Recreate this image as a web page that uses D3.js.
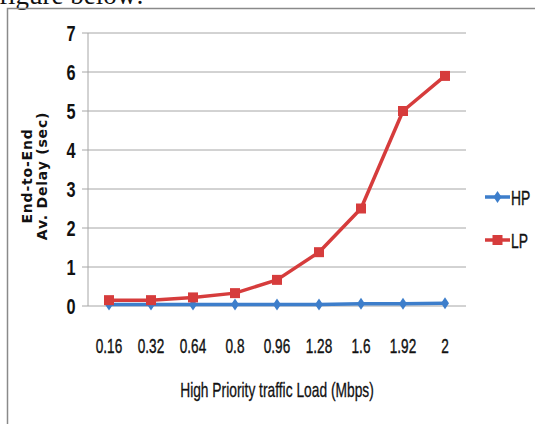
<!DOCTYPE html>
<html>
<head>
<meta charset="utf-8">
<script src="https://cdn.jsdelivr.net/npm/d3@7"></script>
<style>
  body { margin: 0; background: #fff; }
  svg { display: block; }
</style>
</head>
<body>
<div id="chart"></div>
<script>
// data
let categories = ['0.16', '0.32', '0.64', '0.8', '0.96', '1.28', '1.6', '1.92', '2'];
let hpValues = [0.04, 0.04, 0.04, 0.04, 0.04, 0.04, 0.06, 0.06, 0.07];
let lpValues = [0.15, 0.15, 0.22, 0.33, 0.67, 1.38, 2.5, 5.0, 5.9];
let yTicks = [0, 1, 2, 3, 4, 5, 6, 7];

let width = 535, height = 424;
let plot = {left: 88, right: 466, top: 33, bottom: 306};
let narrowFont = '"Liberation Sans", Arial, sans-serif';
let squeeze = 'scale(0.68,1)';

let $svg = d3.select('#chart').append('svg')
    .attr('width', width)
    .attr('height', height);

// cut-off caption line above the figure
$svg.append('text')
    .attr('x', -1).attr('y', 4)
    .attr('font-family', '"Liberation Serif", serif')
    .attr('font-size', 27)
    .attr('fill', '#111')
    .text('figure below:');

// outer frame
$svg.append('rect')
    .attr('x', 7.5).attr('y', 8.5)
    .attr('width', 540).attr('height', 430)
    .attr('fill', 'none')
    .attr('stroke', '#8a8a8a')
    .attr('stroke-width', 1.5);

let x = d3.scaleBand().domain(categories).range([plot.left, plot.right]);
let y = d3.scaleLinear().domain([0, 7]).range([plot.bottom, plot.top]);

// grid lines
$svg.append('g').selectAll('line')
    .data(yTicks)
    .join('line')
    .attr('x1', plot.left - 6).attr('x2', plot.right)
    .attr('y1', d => y(d)).attr('y2', d => y(d))
    .attr('stroke', '#a6a6a6')
    .attr('stroke-width', 1);

// y axis line
$svg.append('line')
    .attr('x1', plot.left).attr('x2', plot.left)
    .attr('y1', plot.top).attr('y2', plot.bottom)
    .attr('stroke', '#a6a6a6');

// y tick labels
let yAxis = $svg.append('g')
    .attr('transform', `translate(${plot.left - 17},0)`)
    .call(d3.axisLeft(y).tickValues(yTicks).tickSize(0).tickPadding(0).tickFormat(d3.format('d')));
yAxis.select('.domain').remove();
yAxis.selectAll('text')
    .attr('font-family', narrowFont)
    .attr('font-size', 22)
    .attr('font-weight', 'bold')
    .attr('fill', '#111')
    .attr('text-anchor', 'middle')
    .attr('x', 0)
    .attr('dy', '0.36em')
    .attr('transform', 'scale(0.74,1)');

// x tick labels
let xAxis = $svg.append('g')
    .attr('transform', `translate(0,${plot.bottom + 40})`)
    .call(d3.axisBottom(x).tickSize(0).tickPadding(0));
xAxis.select('.domain').remove();
xAxis.selectAll('text')
    .attr('font-family', narrowFont)
    .attr('font-size', 20)
    .attr('fill', '#111')
    .attr('stroke', '#111')
    .attr('stroke-width', 0.4)
    .attr('y', 0)
    .attr('dy', '0.36em')
    .attr('transform', squeeze);

// axis titles
$svg.append('text')
    .attr('transform', `translate(277,397) scale(0.69,1)`)
    .attr('text-anchor', 'middle')
    .attr('font-family', narrowFont)
    .attr('font-size', 20)
    .attr('fill', '#111')
    .attr('stroke', '#111')
    .attr('stroke-width', 0.3)
    .text('High Priority traffic Load (Mbps)');

let yTitle = $svg.append('text')
    .attr('transform', 'translate(0,176) rotate(-90)')
    .attr('text-anchor', 'middle')
    .attr('font-family', '"DejaVu Sans", sans-serif')
    .attr('font-size', 14)
    .attr('font-weight', 'bold')
    .attr('letter-spacing', 0.8)
    .attr('fill', '#111');
yTitle.append('tspan').attr('x', 0).attr('y', 32).text('End-to-End');
yTitle.append('tspan').attr('x', 0).attr('y', 47).text('Av. Delay (sec)');

let cx = d => x(d) + x.bandwidth() / 2;
let series = [
    {name: 'HP', values: hpValues, color: '#3d7ecb', shape: 'diamond'},
    {name: 'LP', values: lpValues, color: '#d63c3c', shape: 'square'}
];

let markerPath = (shape) => shape === 'diamond'
    ? 'M0,-6L4,0L0,6L-4,0Z'
    : 'M-5,-5H5V5H-5Z';

series.forEach((s) => {
    let line = d3.line()
        .x((d, i) => cx(categories[i]))
        .y(d => y(d));
    $svg.append('path')
        .datum(s.values)
        .attr('d', line)
        .attr('fill', 'none')
        .attr('stroke', s.color)
        .attr('stroke-width', 3.5)
        .attr('stroke-linejoin', 'round');
    $svg.append('g').selectAll('path')
        .data(s.values)
        .join('path')
        .attr('transform', (d, i) => `translate(${cx(categories[i])},${y(d)})`)
        .attr('d', markerPath(s.shape))
        .attr('fill', s.color);
});

// legend
let legend = $svg.append('g')
    .selectAll('g')
    .data(series)
    .join('g')
    .attr('transform', (d, i) => `translate(485,${197 + i * 43})`);
legend.append('line')
    .attr('x1', 0).attr('x2', 25)
    .attr('stroke', d => d.color)
    .attr('stroke-width', 3.5);
legend.append('path')
    .attr('transform', 'translate(12.5,0)')
    .attr('d', d => markerPath(d.shape))
    .attr('fill', d => d.color);
legend.append('text')
    .attr('transform', `translate(26,7.5) scale(0.66,1)`)
    .attr('font-family', narrowFont)
    .attr('font-size', 21)
    .attr('fill', '#111')
    .attr('stroke', '#111')
    .attr('stroke-width', 0.4)
    .text(d => d.name);
</script>
</body>
</html>
